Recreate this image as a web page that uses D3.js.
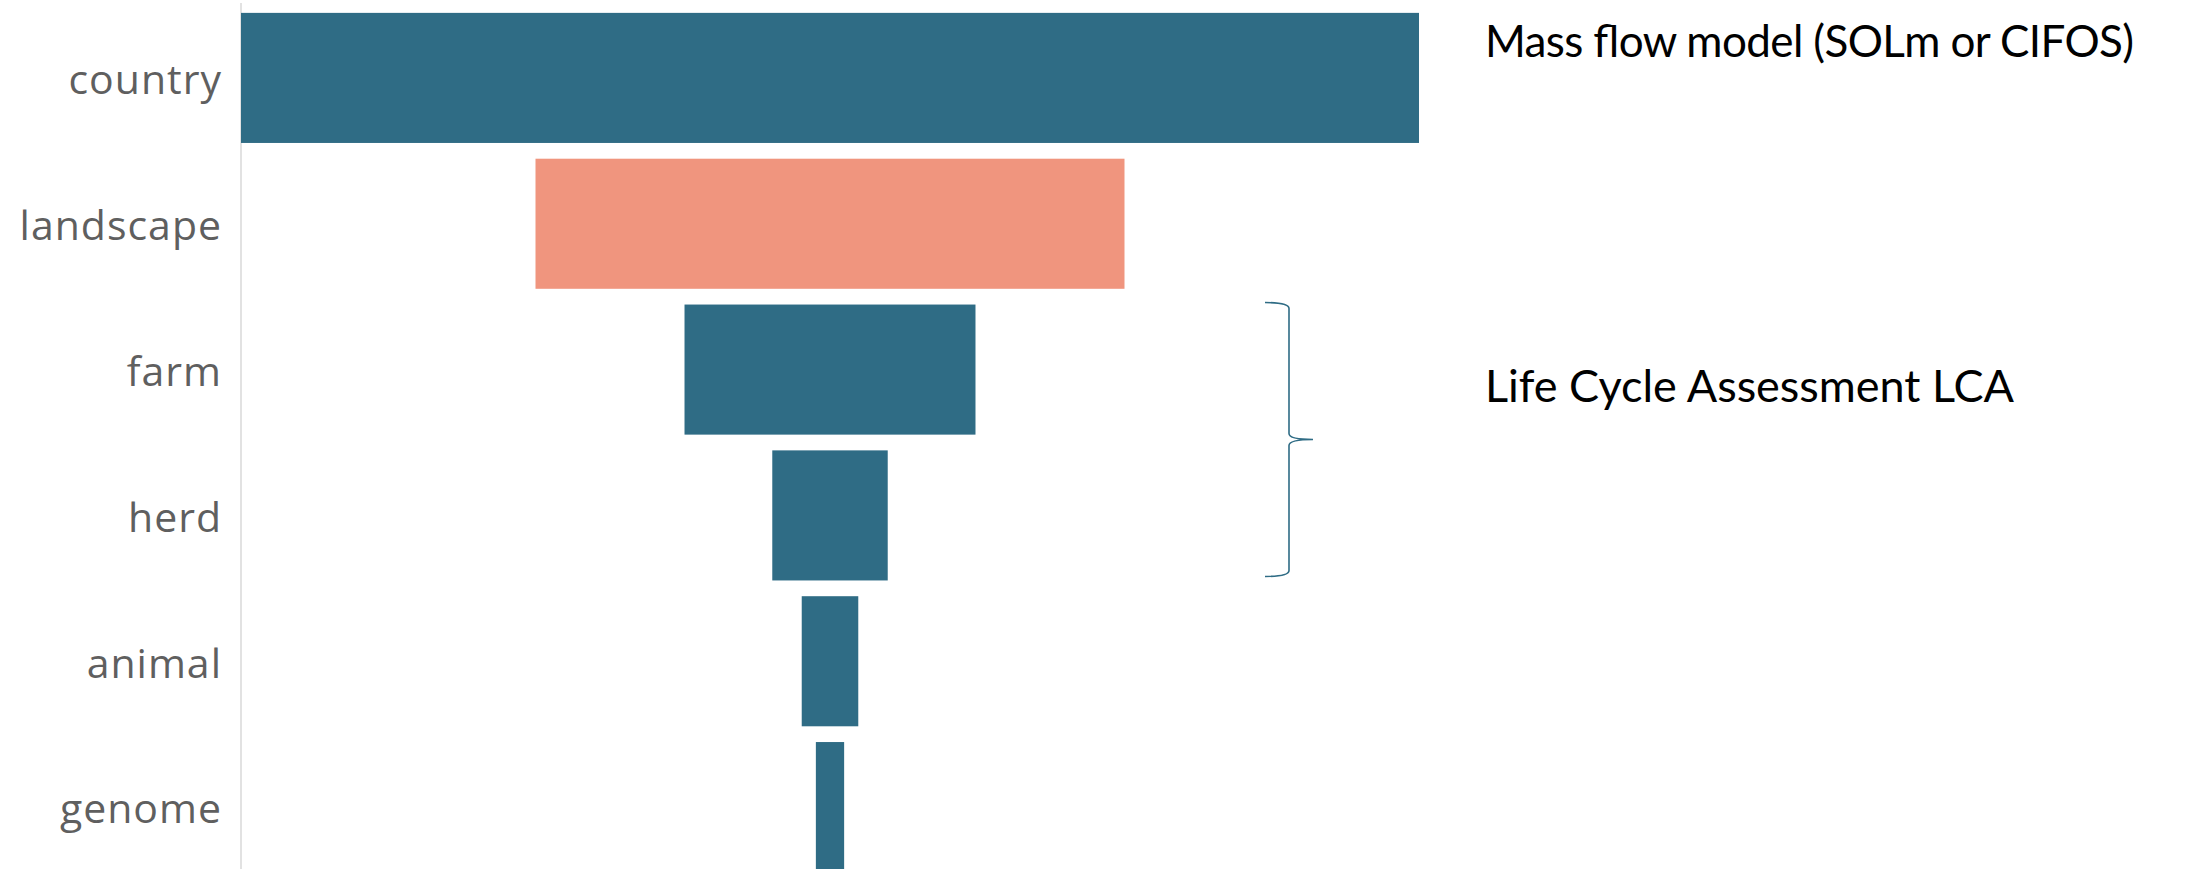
<!DOCTYPE html>
<html>
<head>
<meta charset="utf-8">
<script src="https://cdn.jsdelivr.net/npm/d3@7"></script>
<style>
  body { margin: 0; background: #fff; }
  svg { display: block; }
  .cat { font-family: "Open Sans", sans-serif; fill: #5f5f5f; letter-spacing: 1px; }
  .note { font-family: Lato, sans-serif; fill: #000; }
</style>
</head>
<body>
<div class="chart"></div>
<script>
// funnel levels, top to bottom
let levels = ["country", "landscape", "farm", "herd", "animal", "genome"];
let values = [100, 50, 24.7, 9.8, 4.8, 2.4];
let colors = ["#2f6c85", "#f0957e", "#2f6c85", "#2f6c85", "#2f6c85", "#2f6c85"];
let notes = ["Mass flow model (SOLm or CIFOS)", "Life Cycle Assessment LCA"];
let bracketLevels = ["farm", "herd"];

let width = 2206,
  height = 869,
  axisX = 241,
  maxWidth = 1178,
  centerX = axisX + maxWidth / 2;

let svg = d3
  .select(".chart")
  .append("svg")
  .attr("width", width)
  .attr("height", height);

let yScale = d3
  .scaleBand()
  .domain(levels)
  .range([5, 880])
  .paddingInner(0.108)
  .paddingOuter(0.054);

let wScale = d3
  .scaleLinear()
  .domain([0, d3.max(values)])
  .range([0, maxWidth]);

// category axis on the left
let yAxis = d3.axisLeft(yScale).tickSize(0).tickPadding(19);

let yAxisGroup = svg
  .append("g")
  .attr("transform", "translate(" + axisX + ",0)")
  .call(yAxis);

yAxisGroup
  .select(".domain")
  .attr("d", "M0,3V" + height)
  .attr("stroke", "#d9d9d9")
  .attr("stroke-width", 1.5);

yAxisGroup
  .selectAll("text")
  .attr("class", "cat")
  .attr("font-size", 41)
  .attr("dy", "0.4em")
  .attr("font-family", null)
  .attr("fill", null);

// funnel bars, centred
svg
  .selectAll("rect.bar")
  .data(levels)
  .enter()
  .append("rect")
  .attr("class", "bar")
  .attr("x", (d, i) => centerX - wScale(values[i]) / 2)
  .attr("y", d => yScale(d))
  .attr("width", (d, i) => wScale(values[i]))
  .attr("height", yScale.bandwidth())
  .style("fill", (d, i) => colors[i]);

// brace for LCA
let bTop = yScale(bracketLevels[0]) - 2,
  bBot = yScale(bracketLevels[1]) + yScale.bandwidth() - 4,
  bMid = (bTop + bBot) / 2,
  bx0 = 1265,
  bx1 = 1289,
  bx2 = 1313;

let brace = d3.path();
brace.moveTo(bx0, bTop);
brace.quadraticCurveTo(bx1, bTop, bx1, bTop + 6);
brace.lineTo(bx1, bMid - 6);
brace.quadraticCurveTo(bx1, bMid, bx2, bMid);
brace.quadraticCurveTo(bx1, bMid, bx1, bMid + 6);
brace.lineTo(bx1, bBot - 6);
brace.quadraticCurveTo(bx1, bBot, bx0, bBot);

svg
  .append("path")
  .attr("d", brace.toString())
  .attr("fill", "none")
  .attr("stroke", "#2f6c85")
  .attr("stroke-width", 1.6);

// notes on the right
svg
  .append("text")
  .attr("class", "note")
  .attr("x", 1485)
  .attr("y", 57)
  .attr("font-size", 44)
  .attr("textLength", 649)
  .attr("lengthAdjust", "spacing")
  .text(notes[0]);

svg
  .append("text")
  .attr("class", "note")
  .attr("x", 1485)
  .attr("y", 402)
  .attr("font-size", 45)
  .attr("textLength", 529)
  .attr("lengthAdjust", "spacing")
  .text(notes[1]);
</script>
</body>
</html>
